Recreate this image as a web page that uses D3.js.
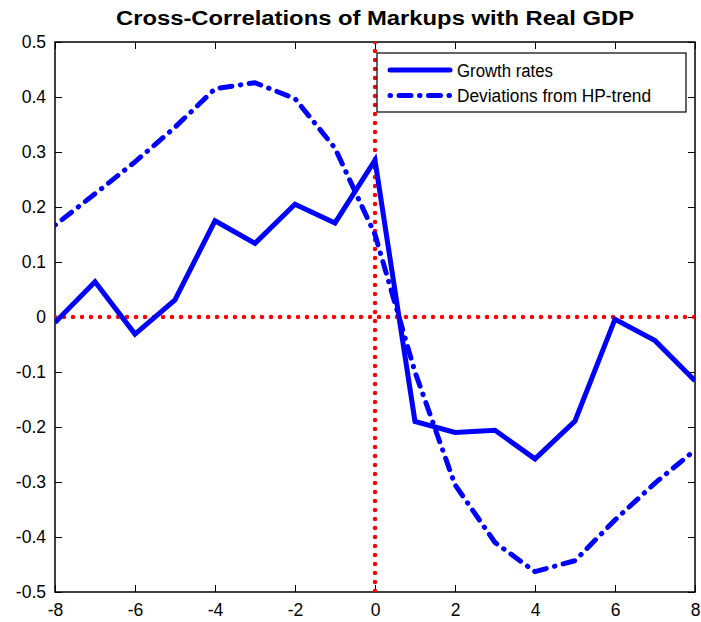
<!DOCTYPE html>
<html><head><meta charset="utf-8">
<script src="https://cdn.jsdelivr.net/npm/d3@7"></script>
<style>body{margin:0;background:#fff}svg{display:block}</style>
</head><body>
<svg id="c" width="701" height="622"></svg>
<script>
const lags = [-8,-7,-6,-5,-4,-3,-2,-1,0,1,2,3,4,5,6,7,8];
const growthRates = [-0.01,0.064,-0.031,0.031,0.175,0.134,0.205,0.171,0.285,-0.19,-0.21,-0.206,-0.258,-0.189,-0.004,-0.043,-0.116];
const hpDeviations = [0.167,0.224,0.282,0.345,0.415,0.426,0.397,0.307,0.15,-0.1,-0.305,-0.41,-0.463,-0.443,-0.369,-0.302,-0.242];
const xTicks = [-8,-6,-4,-2,0,2,4,6,8];
const yTicks = [0.5,0.4,0.3,0.2,0.1,0,-0.1,-0.2,-0.3,-0.4,-0.5];
const seriesNames = ["Growth rates","Deviations from HP-trend"];
const title = "Cross-Correlations of Markups with Real GDP";

const L=55,R=695,T=42,B=592;
const svg=d3.select("#c");
const x=d3.scaleLinear().domain([-8,8]).range([L,R]);
const y=d3.scaleLinear().domain([-0.5,0.5]).range([B,T]);
const font="Liberation Sans, Arial, sans-serif";
const fmt=d=>String(d);

svg.append("text").attr("x",(L+R)/2).attr("y",25).attr("text-anchor","middle")
  .attr("font-family",font).attr("font-weight","bold").attr("font-size",20)
  .attr("textLength",518).attr("lengthAdjust","spacingAndGlyphs").text(title);

const g=svg.append("g");
svg.append("clipPath").attr("id","pc").append("rect").attr("x",L).attr("y",T).attr("width",R-L).attr("height",B-T);

const tl=7;
const axB=d3.axisBottom(x).tickValues(xTicks).tickSizeInner(-tl).tickSizeOuter(0).tickPadding(12).tickFormat(fmt);
const axT=d3.axisTop(x).tickValues(xTicks).tickSizeInner(-tl).tickSizeOuter(0).tickFormat("");
const axL=d3.axisLeft(y).tickValues(yTicks).tickSizeInner(-tl).tickSizeOuter(0).tickPadding(9).tickFormat(fmt);
const axR=d3.axisRight(y).tickValues(yTicks).tickSizeInner(-tl).tickSizeOuter(0).tickFormat("");
[[axB,`translate(0,${B})`],[axT,`translate(0,${T})`],[axL,`translate(${L},0)`],[axR,`translate(${R},0)`]].forEach(([a,t])=>{
  const gg=g.append("g").attr("transform",t).call(a);
  gg.select(".domain").remove();
  gg.selectAll("line").attr("stroke","#000").attr("stroke-width",1);
  gg.selectAll("text").attr("font-family",font).attr("font-size",17.5).attr("fill","#000");
});
g.append("rect").attr("x",L).attr("y",T).attr("width",R-L).attr("height",B-T)
  .attr("fill","none").attr("stroke","#000").attr("stroke-width",1.5);

const plot=svg.append("g").attr("clip-path","url(#pc)");
plot.append("line").attr("x1",x(-8)).attr("x2",x(8)).attr("y1",y(0)).attr("y2",y(0))
  .attr("stroke","#ff0000").attr("stroke-width",4.5).attr("stroke-linecap","round").attr("stroke-dasharray","0 9");
plot.append("line").attr("x1",x(0)).attr("x2",x(0)).attr("y1",y(0.5)).attr("y2",y(-0.5))
  .attr("stroke","#ff0000").attr("stroke-width",4.5).attr("stroke-linecap","round").attr("stroke-dasharray","0 9");

const line=d3.line().x((d,i)=>x(lags[i])).y(d=>y(d));
plot.append("path").datum(hpDeviations).attr("d",line).attr("fill","none").attr("stroke","#0000ff")
  .attr("stroke-width",5).attr("stroke-linecap","round").attr("stroke-linejoin","round").attr("stroke-dasharray","0.5 8.5 12 8.5");
plot.append("path").datum(growthRates).attr("d",line).attr("fill","none").attr("stroke","#0000ff")
  .attr("stroke-width",5).attr("stroke-linejoin","miter");

const lg=svg.append("g");
lg.append("rect").attr("x",377).attr("y",53).attr("width",309).attr("height",59).attr("fill","#fff").attr("stroke","#000").attr("stroke-width",1.2);
const rows=[{name:seriesNames[0],dash:null,yy:70,len:96},{name:seriesNames[1],dash:"0.5 8.5 12 8.5",yy:95.5,len:194}];
rows.forEach(r=>{
  const ln=lg.append("line").attr("x1",390).attr("x2",450).attr("y1",r.yy).attr("y2",r.yy)
    .attr("stroke","#0000ff").attr("stroke-width",5).attr("stroke-linecap","round");
  if(r.dash) ln.attr("stroke-dasharray",r.dash);
  lg.append("text").attr("x",457).attr("y",r.yy+6.5).attr("font-family",font).attr("font-size",18)
    .attr("textLength",r.len).attr("lengthAdjust","spacingAndGlyphs").text(r.name);
});
</script>
</body></html>
